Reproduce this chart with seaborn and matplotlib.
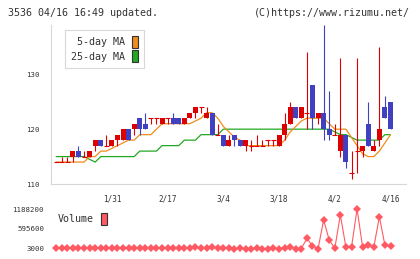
import matplotlib
import matplotlib.pyplot as plt
import numpy as np
import seaborn as sns
from matplotlib.patches import Patch

matplotlib.use("agg")

# daily candles, oldest first
opens = [114, 114, 114, 115, 116, 115, 115, 117, 118, 117, 117, 118, 118, 120, 120, 122,
         121, 122, 122, 121, 122, 122, 122, 121, 122, 123, 124, 122, 123, 119, 119, 117,
         119, 118, 117, 117, 117, 117, 118, 118, 117, 119, 121, 124, 122, 123, 128, 122,
         123, 120, 119, 116, 119, 112, 116, 116, 121, 116, 118, 124, 125]
highs = [114, 115, 115, 116, 117, 116, 116, 118, 118, 119, 118, 119, 120, 120, 121, 122,
         123, 122, 122, 122, 122, 123, 122, 122, 123, 124, 124, 124, 123, 121, 119, 119,
         119, 118, 118, 118, 119, 118, 118, 118, 119, 123, 125, 124, 124, 134, 128, 123,
         139, 127, 121, 133, 119, 116, 133, 117, 125, 118, 135, 126, 125]
lows = [114, 114, 114, 114, 115, 115, 115, 116, 117, 117, 117, 117, 118, 118, 119, 119,
        120, 121, 121, 121, 121, 121, 121, 121, 122, 122, 123, 122, 119, 119, 117, 117,
        117, 117, 116, 116, 117, 117, 117, 117, 117, 118, 121, 122, 122, 120, 120, 121,
        118, 118, 119, 115, 113, 111, 112, 115, 117, 116, 117, 122, 120]
closes = [114, 114, 114, 116, 115, 115, 116, 118, 117, 117, 118, 119, 120, 118, 121, 120,
          120, 122, 122, 122, 122, 121, 121, 122, 123, 124, 124, 123, 119, 119, 117, 118,
          118, 117, 118, 117, 117, 117, 118, 118, 119, 121, 124, 122, 124, 123, 122, 123,
          120, 119, 119, 119, 114, 112, 116, 117, 117, 117, 120, 122, 120]
ma5 = [114, 114, 114, 114, 114, 114, 115, 115, 116, 116, 116.5, 117, 117.5, 118, 118, 119,
       119, 119, 120, 121, 121, 121, 121, 121, 121, 121.5, 122, 123, 123, 122, 120.5, 119.5,
       118.5, 118, 117, 117, 117, 117, 117, 117, 117, 118, 119.5, 120.5, 121.5, 122, 122, 122,
       122, 121, 120, 120, 120, 118.5, 117, 115.5, 115, 115, 116, 117.5, 119]
ma25 = [115, 115, 115, 115, 115, 115, 114.5, 114, 115, 115, 115, 115, 115, 115, 115, 116,
        116, 116, 116, 117, 117, 117, 117, 118, 118, 118, 119, 119, 119, 119, 120, 120,
        120, 120, 120, 120, 120, 120, 120, 120, 120, 120, 120, 120, 120, 120, 120, 120,
        120, 120, 119.5, 119, 119, 118.5, 118, 118, 118, 118, 118, 119, 119]
volumes = [12000, 15000, 9000, 14000, 18000, 10000, 13000, 16000, 11000, 9000, 14000, 12000,
           17000, 10000, 15000, 13000, 9000, 16000, 12000, 11000, 14000, 10000, 13000, 18000,
           15000, 50000, 12000, 14000, 50000, 11000, 9000, 15000, 5000, 15000, 5000, 3000,
           20000, 5000, 5000, 15000, 5000, 20000, 54000, 8000, 5000, 313000, 83000, 3000,
           860000, 263000, 15000, 1009000, 45000, 45000, 1188200, 45000, 104000, 45000,
           958000, 104000, 84000]

date_pos = [10, 20, 30, 40, 50, 60]
date_labels = ["1/31", "2/17", "3/4", "3/18", "4/2", "4/16"]
price_ticks = [110, 120, 130]
volume_ticks = [3000, 595600, 1188200]

UP = "#dd0000"
DOWN = "#4040c0"
MA5_COLOR = "#f08c1e"
MA25_COLOR = "#22a822"
VOL_COLOR = "#ff5a64"
GRID = "#d8d8d8"
TEXT = "#333333"

sns.set_style("white")
plt.rcParams["font.family"] = ["DejaVu Sans Mono"]

W, H = 420, 259
fig = plt.figure(figsize=(W / 100, H / 100), dpi=100)
ax = fig.add_axes([51 / W, (H - 184) / H, 355 / W, 159 / H])
vax = fig.add_axes([51 / W, (H - 248.7) / H, 355 / W, 39.7 / H])

idx = np.arange(len(closes))
o = np.array(opens)
c = np.array(closes)
xlim = (-0.93, 62.78)

# moving averages
sns.lineplot(x=idx, y=ma25, ax=ax, color=MA25_COLOR, lw=0.9, zorder=2)
sns.lineplot(x=idx, y=ma5, ax=ax, color=MA5_COLOR, lw=0.9, zorder=2)

# candles
colors = np.where(c < o, DOWN, UP)
ax.vlines(idx, lows, highs, colors=colors, lw=0.8, zorder=3)
ax.bar(idx, np.abs(c - o), bottom=np.minimum(o, c), width=0.9, color=colors,
       linewidth=0, zorder=4)
doji = c == o
ax.hlines(o[doji], idx[doji] - 0.45, idx[doji] + 0.45, colors=UP, lw=0.8, zorder=4)

ax.set_xlim(*xlim)
ax.set_ylim(110, 139)
ax.set_xlabel("")
ax.set_ylabel("")
for s in ["top", "right"]:
    ax.spines[s].set_visible(False)
for s in ["left", "bottom"]:
    ax.spines[s].set_color(GRID)
    ax.spines[s].set_linewidth(0.8)

ax.set_xticks(np.linspace(xlim[0], xlim[1], 12), labels=[""] * 12)
ax.set_xticks(date_pos, labels=date_labels, minor=True)
ax.tick_params(axis="x", which="major", direction="inout", length=7, width=0.8, color=GRID)
ax.tick_params(axis="x", which="minor", length=0, pad=7.5, labelsize=5.5, labelcolor=TEXT)
ax.set_yticks(price_ticks)
ax.tick_params(axis="y", direction="inout", length=7, width=0.8, color=GRID,
               pad=5, labelsize=5.3, labelcolor=TEXT)

ax.legend(
    handles=[Patch(facecolor=MA5_COLOR, edgecolor="#333333", lw=0.8, label="5-day MA"),
             Patch(facecolor=MA25_COLOR, edgecolor="#333333", lw=0.8, label="25-day MA")],
    loc="upper left", bbox_to_anchor=(65 / W, 1 - 30 / H), bbox_transform=fig.transFigure,
    borderaxespad=0, markerfirst=False, handlelength=0.6, handleheight=1.5,
    handletextpad=0.7, labelspacing=0.2, borderpad=0.6, fontsize=7.2,
    frameon=True, fancybox=False, framealpha=1, edgecolor=GRID, labelcolor=TEXT,
)
ax.get_legend().get_frame().set_linewidth(0.8)

# volume panel
sns.lineplot(x=idx, y=volumes, ax=vax, color=VOL_COLOR, lw=0.8, marker="D",
             markersize=3.6, markeredgewidth=0, clip_on=False)
vax.set_xlim(*xlim)
vax.set_ylim(volume_ticks[0], volume_ticks[-1])
vax.set_xlabel("")
vax.set_ylabel("")
for s in vax.spines.values():
    s.set_visible(False)
vax.set_xticks([])
vax.set_yticks(volume_ticks, labels=[str(v) for v in volume_ticks])
vax.tick_params(axis="y", length=0, pad=5, labelsize=5.3, labelcolor=TEXT)
vax.legend(
    handles=[Patch(facecolor=VOL_COLOR, edgecolor="#333333", lw=0.8, label="Volume")],
    loc="upper left", bbox_to_anchor=(58 / W, 1 - 213 / H), bbox_transform=fig.transFigure,
    borderaxespad=0, borderpad=0, markerfirst=False, handlelength=0.6, handleheight=1.5,
    handletextpad=0.7, fontsize=7.2, frameon=False, labelcolor=TEXT,
)

fig.text(8 / W, 1 - 13 / H, "3536 04/16 16:49 updated.", fontsize=7.2, color=TEXT,
         va="center", ha="left")
fig.text(410 / W, 1 - 13 / H, "(C)https://www.rizumu.net/", fontsize=7.2, color=TEXT,
         va="center", ha="right")

fig.savefig("out.png", dpi=100)
